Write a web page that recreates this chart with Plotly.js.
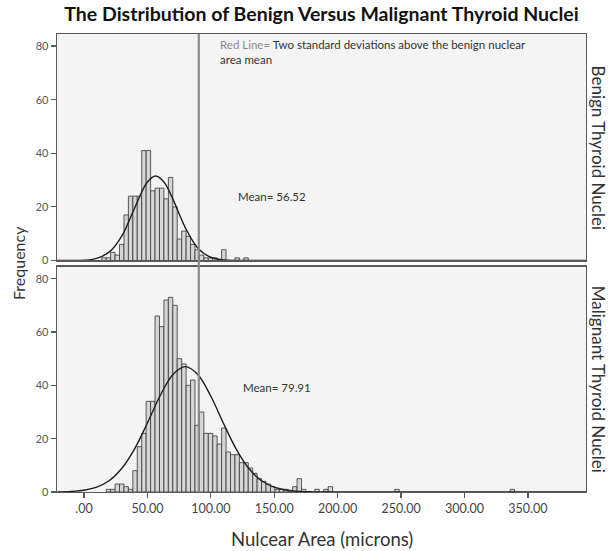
<!DOCTYPE html>
<html>
<head>
<meta charset="utf-8">
<script src="https://cdn.plot.ly/plotly-3.0.1.min.js"></script>
<style>html,body{margin:0;padding:0;background:#fff;}#chart{width:610px;height:551px;}</style>
</head>
<body>
<div id="chart"></div>
<script>
// ---- Data ----
const binWidth = 3.5;

const benignBins = [15.75, 19.25, 22.75, 26.25, 29.75, 33.25, 36.75, 40.25, 43.75, 47.25, 50.75,
  54.25, 57.75, 61.25, 64.75, 68.25, 71.75, 75.25, 78.75, 82.25, 85.75, 89.25, 92.75, 96.25,
  99.75, 103.25, 106.75, 110.25, 113.75, 117.25, 120.75, 124.25, 127.75];
const benignCounts = [1, 1, 3, 2, 6, 17, 24, 24, 24, 41, 41,
  26, 27, 27, 23, 31, 20, 8, 11, 9, 6, 4, 2, 1,
  1, 1, 0, 4, 0, 0, 1, 0, 1];

const malignantBins = [19.25, 22.75, 26.25, 29.75, 33.25, 36.75, 40.25, 43.75, 47.25, 50.75,
  54.25, 57.75, 61.25, 64.75, 68.25, 71.75, 75.25, 78.75, 82.25, 85.75, 89.25, 92.75, 96.25,
  99.75, 103.25, 106.75, 110.25, 113.75, 117.25, 120.75, 124.25, 127.75, 131.25, 134.75,
  138.25, 141.75, 145.25, 148.75, 152.25, 155.75, 159.25, 162.75, 166.25, 169.75, 173.25,
  183.75, 190.75, 194.25, 246.75, 337.75];
const malignantCounts = [1, 1, 3, 3, 2, 1, 8, 17, 22, 34,
  34, 66, 62, 72, 73, 70, 50, 48, 40, 42, 25, 30, 22,
  22, 21, 18, 24, 15, 14, 14, 11, 11, 9, 7,
  5, 4, 3, 2, 1, 1, 1, 0, 2, 5, 1,
  1, 1, 2, 1, 1];

// Fitted normal curves
const benignCurveX = [-21, -10, 0, 10, 20, 30, 40, 50, 56.5, 63, 70, 80, 90, 100, 110, 120, 130, 150, 200, 300, 396];
const benignCurveY = [0, 0, 0.1, 0.8, 3.2, 9.3, 19.7, 29.3, 31.5, 29.3, 23.0, 12.1, 4.5, 1.2, 0.2, 0.03, 0, 0, 0, 0, 0];

const malignantCurveX = [-21, -10, 0, 10, 20, 30, 40, 50, 60, 70, 80, 90, 100, 110, 120, 130, 140, 150, 160, 170, 180, 200, 300, 396];
const malignantCurveY = [0.05, 0.22, 0.67, 1.8, 4.3, 9.0, 16.3, 25.9, 36.1, 44.0, 47.0, 43.9, 35.9, 25.7, 16.1, 8.8, 4.2, 1.8, 0.65, 0.2, 0.06, 0, 0, 0];

const benignMeanLabel = 'Mean= 56.52';
const malignantMeanLabel = 'Mean= 79.91';
const redLineValue = 90.5; // benign mean + 2 SD

const xTickVals = [0, 50, 100, 150, 200, 250, 300, 350];
const xTickText = ['.00', '50.00', '100.00', '150.00', '200.00', '250.00', '300.00', '350.00'];
const yTickVals = [0, 20, 40, 60, 80];
const yTickText = ['0', '20', '40', '60', '80'];

// ---- Styling ----
const FONT = 'Lato, "Open Sans", sans-serif';
const barStyle = {color: '#d6d6d6', line: {color: '#3d3d3d', width: 0.85}};
const curveStyle = {color: '#1e1e1e', width: 1.4, shape: 'spline'};

const traces = [
  {type: 'bar', x: benignBins, y: benignCounts, width: binWidth, marker: barStyle, xaxis: 'x2', yaxis: 'y2', hoverinfo: 'x+y'},
  {type: 'scatter', mode: 'lines', x: benignCurveX, y: benignCurveY, line: curveStyle, xaxis: 'x2', yaxis: 'y2', hoverinfo: 'skip'},
  {type: 'bar', x: malignantBins, y: malignantCounts, width: binWidth, marker: barStyle, xaxis: 'x', yaxis: 'y', hoverinfo: 'x+y'},
  {type: 'scatter', mode: 'lines', x: malignantCurveX, y: malignantCurveY, line: curveStyle, xaxis: 'x', yaxis: 'y', hoverinfo: 'skip'}
];

const axisLine = {showline: true, linecolor: '#5a5a5a', linewidth: 1.3, mirror: true, showgrid: false, zeroline: false};
const yAxisBase = Object.assign({}, axisLine, {
  range: [0, 84.5], tickvals: yTickVals, ticktext: yTickText, ticks: 'outside', ticklen: 5,
  tickcolor: '#5a5a5a', tickwidth: 1.2, tickfont: {family: FONT, size: 11, color: '#555'}, fixedrange: true
});

const layout = {
  width: 610, height: 551,
  paper_bgcolor: '#ffffff', plot_bgcolor: '#f4f4f4',
  margin: {l: 57, r: 24, t: 34, b: 59},
  showlegend: false, bargap: 0, barmode: 'overlay',
  font: {family: FONT, color: '#333'},
  title: {
    text: 'The Distribution of Benign Versus Malignant Thyroid Nuclei',
    font: {family: FONT, size: 19.5, weight: 'bold', color: '#111'},
    xref: 'paper', x: 0.5, xanchor: 'center',
    yref: 'container', y: 1 - 14 / 551, yanchor: 'middle'
  },
  xaxis: Object.assign({}, axisLine, {
    domain: [0, 1], anchor: 'y', range: [-21.3, 395.8],
    tickvals: xTickVals, ticktext: xTickText, ticks: 'outside', ticklen: 5,
    tickcolor: '#5a5a5a', tickwidth: 1.2, tickfont: {family: FONT, size: 12.5, color: '#444'}
  }),
  xaxis2: Object.assign({}, axisLine, {
    domain: [0, 1], anchor: 'y2', matches: 'x', showticklabels: false, ticks: ''
  }),
  yaxis: Object.assign({}, yAxisBase, {domain: [0, 0.492], anchor: 'x'}),
  yaxis2: Object.assign({}, yAxisBase, {domain: [0.5055, 1], anchor: 'x2'}),
  shapes: [{
    type: 'line', xref: 'x', yref: 'paper', x0: redLineValue, x1: redLineValue, y0: 0, y1: 1,
    line: {color: '#8a8a8a', width: 2.2}, layer: 'above'
  }],
  annotations: [
    {text: '<span style="color:#8c8c8c">Red Line=</span> Two standard deviations above the benign nuclear<br>area mean',
     xref: 'x2', yref: 'y2', x: 105.6, y: 83.6, xanchor: 'left', yanchor: 'top', align: 'left',
     showarrow: false, font: {family: FONT, size: 11.5, color: '#333'}},
    {text: benignMeanLabel, xref: 'x2', yref: 'y2', x: 119.5, y: 23.7, xanchor: 'left', yanchor: 'middle',
     showarrow: false, font: {family: FONT, size: 11.5, color: '#333'}},
    {text: malignantMeanLabel, xref: 'x', yref: 'y', x: 123.5, y: 39, xanchor: 'left', yanchor: 'middle',
     showarrow: false, font: {family: FONT, size: 11.5, color: '#333'}},
    {text: 'Frequency', xref: 'paper', yref: 'paper', x: -0.0737, y: 0.5, xanchor: 'center', yanchor: 'middle',
     textangle: -90, showarrow: false, font: {family: FONT, size: 16, color: '#333'}},
    {text: 'Nulcear Area (microns)', xref: 'paper', yref: 'paper', x: 0.5, y: -0.1026, xanchor: 'center', yanchor: 'middle',
     showarrow: false, font: {family: FONT, size: 18.5, color: '#333'}},
    {text: 'Benign Thyroid Nuclei', xref: 'paper', yref: 'paper', x: 1.0237, y: 0.753, xanchor: 'center', yanchor: 'middle',
     textangle: 90, showarrow: false, font: {family: FONT, size: 17, color: '#333'}},
    {text: 'Malignant Thyroid Nuclei', xref: 'paper', yref: 'paper', x: 1.0237, y: 0.246, xanchor: 'center', yanchor: 'middle',
     textangle: 90, showarrow: false, font: {family: FONT, size: 17, color: '#333'}}
  ]
};

Plotly.newPlot('chart', traces, layout, {displayModeBar: false, staticPlot: true});
</script>
</body>
</html>
